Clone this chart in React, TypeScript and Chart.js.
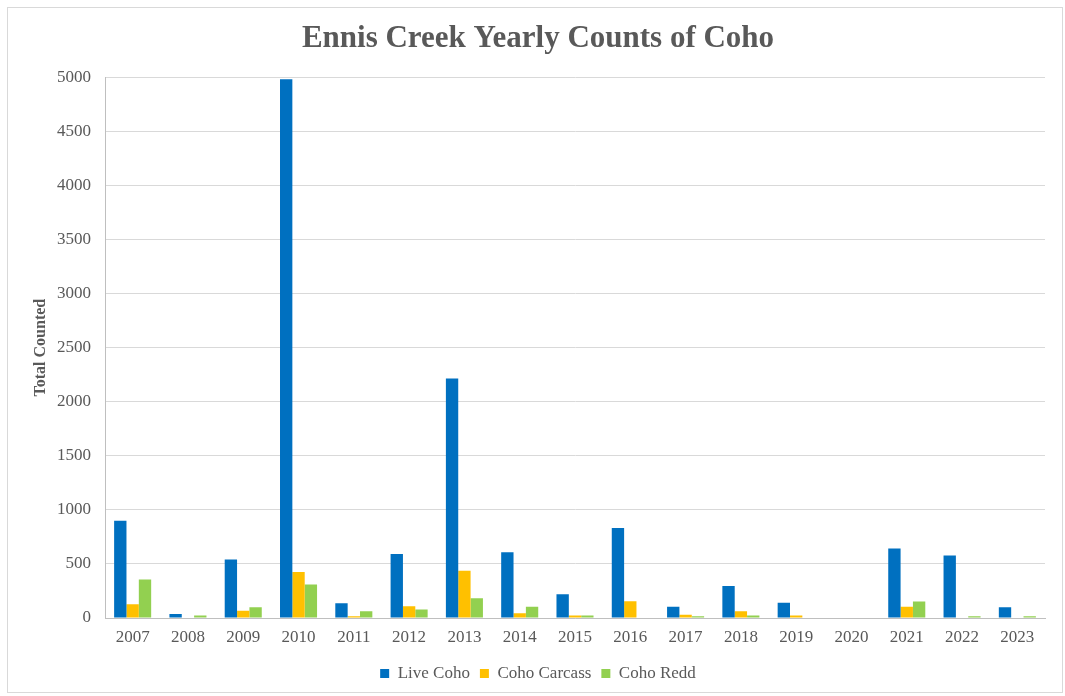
import React, { useEffect, useRef } from "react";
import { Chart, registerables } from "chart.js";

Chart.register(...registerables);

const years = ["2007", "2008", "2009", "2010", "2011", "2012", "2013", "2014", "2015", "2016", "2017", "2018", "2019", "2020", "2021", "2022", "2023"];
const liveCoho = [900, 37, 540, 4980, 136, 592, 2215, 608, 219, 832, 105, 296, 142, 0, 642, 577, 99];
const cohoCarcass = [128, 5, 68, 425, 16, 108, 438, 43, 22, 154, 31, 62, 22, 0, 105, 5, 5];
const cohoRedd = [355, 22, 99, 309, 62, 78, 182, 105, 22, 0, 16, 22, 0, 0, 152, 16, 16];
const yTicks = [0, 500, 1000, 1500, 2000, 2500, 3000, 3500, 4000, 4500, 5000];

const FONT = "'Liberation Serif', 'Times New Roman', serif";
const TEXT = "#595959";

export default function App() {
  const ref = useRef<HTMLCanvasElement | null>(null);

  useEffect(() => {
    document.body.style.margin = "0";
    const chart = new Chart(ref.current!, {
      type: "bar",
      data: {
        labels: years,
        datasets: [
          { label: "Live Coho", data: liveCoho, backgroundColor: "#0070C0" },
          { label: "Coho Carcass", data: cohoCarcass, backgroundColor: "#FFC000" },
          { label: "Coho Redd", data: cohoRedd, backgroundColor: "#92D050" },
        ],
      },
      options: {
        animation: false,
        responsive: false,
        devicePixelRatio: 1,
        datasets: { bar: { barPercentage: 1, categoryPercentage: 0.67 } },
        layout: { padding: { left: 31, right: 20, top: 0, bottom: 4 } },
        plugins: {
          title: {
            display: true,
            text: "Ennis Creek Yearly Counts of Coho",
            color: TEXT,
            font: { family: FONT, size: 31, weight: "bold" },
            padding: { top: 20, bottom: 20 },
          },
          legend: {
            position: "bottom",
            labels: {
              color: TEXT,
              font: { family: FONT, size: 17 },
              boxWidth: 9,
              boxHeight: 9,
              padding: 10,
            },
          },
          tooltip: { enabled: false },
        },
        scales: {
          x: {
            grid: { display: false, drawTicks: false },
            border: { color: "#bfbfbf" },
            ticks: { color: TEXT, font: { family: FONT, size: 17 }, padding: 9, maxRotation: 0 },
            afterFit: (s: any) => { s.height = 37; },
          },
          y: {
            min: 0,
            max: 5000,
            afterBuildTicks: (s: any) => { s.ticks = yTicks.map((v) => ({ value: v })); },
            grid: { color: "#d9d9d9", drawTicks: false },
            border: { color: "#bfbfbf" },
            ticks: {
              color: TEXT,
              font: { family: FONT, size: 17 },
              padding: 14,
              callback: (v: any) => String(v),
            },
            title: {
              display: true,
              text: "Total Counted",
              color: TEXT,
              font: { family: FONT, size: 16, weight: "bold" },
              padding: 0,
            },
            afterFit: (s: any) => { s.width = 74; },
          },
        },
      },
    });
    return () => chart.destroy();
  }, []);

  return (
    <div style={{ position: "relative", width: 1065, height: 696, background: "#fff" }}>
      <canvas ref={ref} width={1065} height={696} style={{ position: "absolute", left: 0, top: 0 }} />
      <div
        style={{
          position: "absolute",
          left: 7,
          top: 7,
          width: 1054,
          height: 684,
          border: "1px solid #d9d9d9",
          pointerEvents: "none",
        }}
      />
    </div>
  );
}
